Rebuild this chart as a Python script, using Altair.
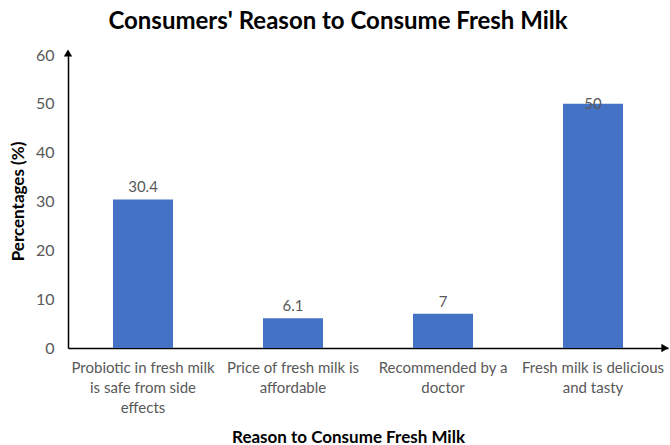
import altair as alt
import pandas as pd

categories = [
    "Probiotic in fresh milk|is safe from side|effects",
    "Price of fresh milk is|affordable",
    "Recommended by a|doctor",
    "Fresh milk is delicious|and tasty",
]
values = [30.4, 6.1, 7, 50]
y_ticks = [0, 10, 20, 30, 40, 50, 60]

df = pd.DataFrame({"reason": categories, "pct": values})

FONT = "Lato"
GRAY = "#595959"

x_enc = alt.X(
    "reason:N",
    sort=None,
    scale=alt.Scale(paddingInner=0.6, paddingOuter=0.3),
    axis=alt.Axis(
        title="Reason to Consume Fresh Milk",
        labelExpr="split(datum.label, '|')",
        labelAngle=0,
        labelFont=FONT,
        labelFontSize=15,
        labelColor=GRAY,
        labelLineHeight=20,
        labelPadding=12,
        labelLimit=300,
        ticks=False,
        domainColor="black",
        domainWidth=1.5,
        titleFont=FONT,
        titleFontSize=17,
        titleFontWeight="bold",
        titleColor="black",
        titleX=280,
        titleY=89,
        titleBaseline="middle",
    ),
)

y_scale = alt.Scale(domain=[0, 60])

bars = alt.Chart(df).mark_bar(color="#4472C4").encode(
    x=x_enc,
    y=alt.Y(
        "pct:Q",
        scale=y_scale,
        axis=alt.Axis(
            title="Percentages (%)",
            values=y_ticks,
            grid=False,
            ticks=False,
            labelFont=FONT,
            labelFontSize=16,
            labelColor=GRAY,
            labelPadding=14,
            domainColor="black",
            domainWidth=1.5,
            titleFont=FONT,
            titleFontSize=17,
            titleFontWeight="bold",
            titleColor="black",
            titleX=-50,
            titleY=146,
            titleBaseline="middle",
            titleAngle=-90,
        ),
    ),
)

labels = alt.Chart(df).transform_calculate(
    lp="min(datum.pct + 2.5, 50)"
).mark_text(font=FONT, fontSize=15, color=GRAY, baseline="middle").encode(
    x=alt.X("reason:N", sort=None),
    y=alt.Y("lp:Q", scale=y_scale),
    text=alt.Text("pct:Q"),
)

arrow_df = pd.DataFrame({"a": [0]})
arrow_y = alt.Chart(arrow_df).mark_point(
    shape="triangle-up", filled=True, color="black", size=70, opacity=1
).encode(x=alt.value(0), y=alt.value(-2))
arrow_x = alt.Chart(arrow_df).mark_point(
    shape="triangle-right", filled=True, color="black", size=70, opacity=1
).encode(x=alt.value(597), y=alt.value(293))

chart = alt.layer(bars, labels, arrow_y, arrow_x).properties(
    width=600,
    height=293,
    padding={"left": 68, "top": 55, "right": 2, "bottom": 97},
    autosize=alt.AutoSizeParams(type="none"),
    background="white",
    title=alt.TitleParams(
        "Consumers' Reason to Consume Fresh Milk",
        font=FONT,
        fontSize=24,
        fontWeight="bold",
        color="black",
        anchor="middle",
        dx=-30,
        offset=13,
    ),
).configure_view(stroke=None)

chart.save("out.html", embed_options={"renderer": "svg", "actions": False})
